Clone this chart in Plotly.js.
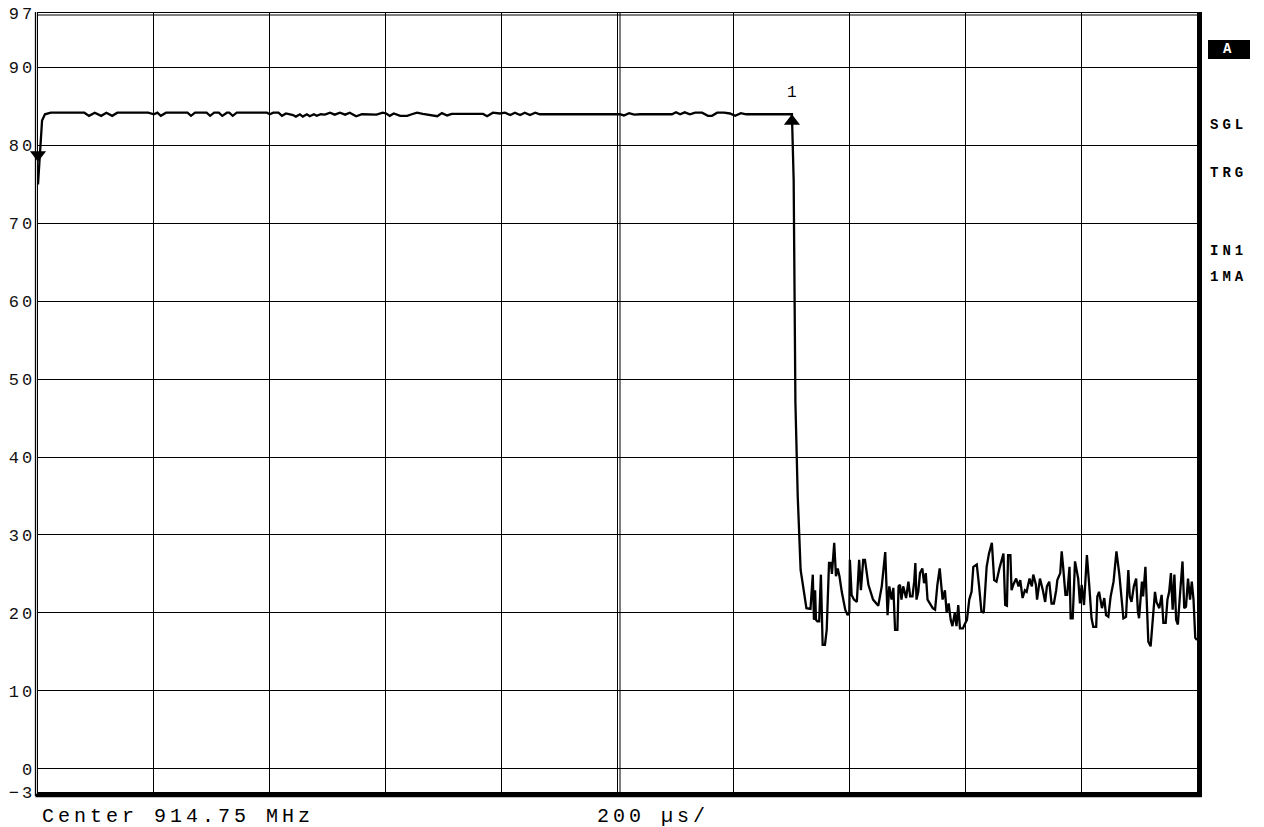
<!DOCTYPE html>
<html>
<head>
<meta charset="utf-8">
<script src="https://cdn.plot.ly/plotly-3.0.1.min.js"></script>
<style>
  html, body { margin: 0; padding: 0; background: #fff; }
  #chart { width: 1264px; height: 827px; }
  .ytick text { letter-spacing: 3px; }
  .annotation-text { letter-spacing: 4px; }
</style>
</head>
<body>
<div id="chart"></div>
<script>
// ---- data (time in microseconds from sweep start, level in dB) ----
const TIME_US = [
  0, 2, 4, 7, 12, 22, 80, 88, 98, 109, 118, 128, 137, 190, 200, 206, 212, 221,
  258, 264, 271, 291, 297, 304, 312, 318, 326, 330, 336, 343, 395, 400, 406, 415,
  421, 428, 440, 445, 452, 457, 464, 469, 476, 481, 488, 495, 504, 512, 521, 530,
  538, 549, 559, 576, 584, 595, 601, 607, 614, 625, 637, 645, 654, 664, 689, 697,
  706, 714, 768, 775, 785, 797, 806, 815, 823, 832, 840, 849, 858, 866, 996, 1004,
  1011, 1020, 1029, 1039, 1094, 1101, 1108, 1116, 1125, 1134, 1146, 1156, 1163,
  1172, 1184, 1194, 1203, 1213, 1222, 1298, 1301,
  1304, 1307, 1311, 1316, 1326,
  1333, 1337, 1339, 1341, 1342.5, 1345, 1348, 1351, 1354, 1358, 1361, 1365, 1368,
  1370, 1374, 1377, 1380, 1383, 1387, 1393, 1397, 1400, 1401, 1404, 1408, 1413,
  1417, 1420, 1424, 1427, 1433, 1441, 1450, 1456, 1458, 1462, 1466, 1469, 1473,
  1476, 1479, 1483, 1485, 1487.5, 1490, 1493, 1498, 1502, 1505, 1509, 1512, 1514,
  1516, 1519, 1522, 1526, 1529, 1532, 1535, 1539, 1544, 1548, 1552, 1556, 1561,
  1565, 1568, 1571.5, 1575, 1578, 1582, 1585, 1588, 1591, 1596, 1599, 1603, 1607,
  1611, 1614, 1620, 1624, 1628, 1632, 1637, 1641, 1646, 1650, 1654, 1659, 1663,
  1666, 1669, 1672, 1674, 1678, 1680, 1683, 1688, 1692, 1695, 1699, 1703, 1706,
  1711, 1715, 1717.5, 1722, 1724, 1729, 1734, 1738, 1741, 1745, 1749, 1753, 1757,
  1759, 1764, 1766.5, 1769, 1773, 1776, 1780, 1782, 1785.5, 1789.5, 1792, 1795,
  1798, 1801, 1805, 1810, 1814, 1818, 1821, 1826, 1828, 1831, 1836, 1840, 1843,
  1847, 1851, 1856, 1861, 1866, 1870, 1873, 1877.5, 1881.5, 1884, 1887, 1891, 1895,
  1898, 1900, 1905, 1907, 1911, 1913, 1916, 1920, 1924, 1927.5, 1930, 1935, 1939,
  1942, 1946, 1949, 1952, 1955, 1958, 1961, 1964, 1967, 1971, 1975, 1978, 1981,
  1984.5, 1988, 1991, 1994, 1997, 2000
];
const LEVEL_DB = [
  75, 77.5, 81, 83.2, 84.0, 84.2, 84.2, 83.8, 84.2, 83.8, 84.2, 83.8, 84.2, 84.2, 84.0, 84.2, 83.8, 84.2,
  84.2, 83.8, 84.2, 84.2, 83.8, 84.2, 84.2, 83.8, 84.2, 84.2, 83.8, 84.2, 84.2, 84.0, 84.2, 84.2,
  83.8, 84.1, 83.9, 83.7, 84.0, 83.7, 84.0, 83.75, 84.0, 83.8, 84.0, 83.95, 84.2, 83.95, 84.2, 83.95,
  84.2, 83.75, 84.0, 84.0, 83.95, 84.2, 84.1, 83.8, 84.1, 83.8, 83.8, 84.0, 84.2, 84.05, 83.75, 84.15,
  83.85, 84.05, 84.05, 83.75, 84.2, 84.1, 84.2, 83.9, 84.2, 83.9, 84.2, 83.9, 84.2, 84.0, 84.0, 84.0,
  83.85, 84.15, 83.95, 84.0, 84.0, 84.25, 84.0, 84.25, 84.0, 84.2, 84.2, 83.8, 83.8,
  84.2, 84.2, 84.1, 83.8, 84.15, 84.0, 84.0, 84.0,
  75.5, 47, 35, 25.5, 20.6,
  20.5, 24.9, 19.1, 22.9, 19.1, 18.9, 18.9, 24.9, 15.9, 15.9, 17.8, 26.4, 26.4,
  25.0, 29.0, 24.7, 25.7, 24.7, 22.7, 20.4, 19.7, 20.0, 26.8, 22.3, 21.7, 21.4,
  26.8, 22.9, 26.8, 26.8, 23.6, 21.7, 20.9, 23.4, 25.1, 27.8, 19.7, 23.4, 21.7,
  23.2, 17.8, 17.8, 23.4, 23.6, 21.7, 23.4, 21.9, 24.0, 22.1, 22.1, 24.0, 26.4,
  21.7, 22.7, 25.1, 25.7, 23.8, 25.1, 21.7, 21.2, 20.6, 20.4, 23.6, 25.7, 21.7,
  22.9, 20.0, 21.2, 19.1, 18.3, 20.0, 18.3, 21.0, 18.0, 18.0, 18.5, 19.1, 21.7,
  22.7, 25.9, 26.2, 23.4, 20.2, 20.0, 25.9, 27.6, 29.0, 24.2, 24.0, 25.7, 27.0,
  27.6, 21.0, 20.9, 27.4, 27.4, 22.9, 23.6, 24.4, 23.4, 24.2, 21.9, 22.9, 22.7,
  24.4, 23.4, 24.9, 23.6, 21.7, 24.4, 22.9, 21.4, 23.4, 24.0, 21.2, 21.2, 22.9,
  24.2, 25.1, 27.9, 25.9, 22.3, 22.3, 25.9, 19.3, 19.3, 26.6, 25.3, 24.4,
  21.2, 23.6, 21.0, 27.4, 23.6, 19.3, 18.2, 18.2, 22.1, 22.7, 20.6, 21.9, 19.7,
  19.5, 22.1, 24.0, 27.9, 24.9, 21.7, 19.3, 19.5, 25.5, 22.1, 21.4, 23.4, 24.4,
  20.2, 19.3, 24.0, 22.1, 25.9, 22.7, 16.3, 15.7, 19.1, 22.7, 21.4, 20.6, 22.3,
  18.7, 18.7, 21.7, 22.7, 25.1, 20.4, 24.9, 19.1, 18.5, 22.7, 26.6, 20.6, 20.8,
  24.4, 21.7, 24.0, 21.7, 16.8, 16.5
];

// markers
const MARKER_UP_T = [1301];     // marker 1 (points up at the trace)
const MARKER_UP_DB = [84.0];
const MARKER_UP_LABEL = ['1'];
const MARKER_DN_T = [0];        // marker at sweep start (points down)
const MARKER_DN_DB = [77.9];

// axes
const X_RANGE = [0, 2000];
const X_GRID = [200, 400, 600, 800, 1000, 1200, 1400, 1600, 1800];
const Y_RANGE = [-3, 97];
const Y_TICKS = [-3, 0, 10, 20, 30, 40, 50, 60, 70, 80, 90, 97];
const Y_TICKTEXT = ['\u22123', '0', '10', '20', '30', '40', '50', '60', '70', '80', '90', '97'];

// text
const FOOTER_LEFT = 'Center 914.75 MHz';
const FOOTER_MID = '200 \u00b5s/';
const SIDE_LABELS = ['SGL', 'TRG', 'IN1', '1MA'];
const SIDE_BOX = 'A';

// ---- layout helpers (pixel -> paper) ----
const M = { l: 38, r: 67, t: 13, b: 35 };
const W = 1264, H = 827;
const PW = W - M.l - M.r, PH = H - M.t - M.b;
const px = x => (x - M.l) / PW;
const py = y => 1 - (y - M.t) / PH;

const MONO = 'Liberation Mono, Courier New, monospace';

const traces = [
  {
    x: TIME_US, y: LEVEL_DB, type: 'scatter', mode: 'lines',
    line: { color: '#000', width: 2.3 }, hoverinfo: 'skip', showlegend: false
  },
  {
    x: MARKER_UP_T, y: MARKER_UP_DB, type: 'scatter', mode: 'markers',
    marker: { symbol: 'triangle-up', size: 14, color: '#000', standoff: 7 },
    cliponaxis: false, showlegend: false, hoverinfo: 'skip'
  },
  {
    x: MARKER_DN_T, y: MARKER_DN_DB, type: 'scatter', mode: 'markers',
    marker: { symbol: 'triangle-up', angle: 180, size: 14, color: '#000', standoff: 7 },
    cliponaxis: false, showlegend: false, hoverinfo: 'skip'
  }
];

const sideY = [125, 173, 251, 277];
const annotations = [
  { xref: 'paper', yref: 'paper', x: px(40), y: py(816), xanchor: 'left', yanchor: 'middle',
    text: FOOTER_LEFT, showarrow: false, font: { family: MONO, size: 20, color: '#000' } },
  { xref: 'paper', yref: 'paper', x: px(595), y: py(816), xanchor: 'left', yanchor: 'middle',
    text: FOOTER_MID, showarrow: false, font: { family: MONO, size: 20, color: '#000' } },
  { xref: 'paper', yref: 'paper', x: px(1229), y: py(49), xanchor: 'center', yanchor: 'middle',
    text: SIDE_BOX, showarrow: false, font: { family: MONO, size: 14, color: '#fff', weight: 'bold' } }
];
SIDE_LABELS.forEach((s, i) => annotations.push({
  xref: 'paper', yref: 'paper', x: px(1208), y: py(sideY[i]), xanchor: 'left', yanchor: 'middle',
  text: s, showarrow: false, font: { family: MONO, size: 14, color: '#000', weight: 'bold' }
}));
MARKER_UP_T.forEach((t, i) => annotations.push({
  xref: 'x', yref: 'y', x: t, y: MARKER_UP_DB[i], yshift: 21, xshift: 2,
  text: MARKER_UP_LABEL[i], showarrow: false, font: { family: MONO, size: 16, color: '#000' }
}));

const shapes = [
  // A box
  { type: 'rect', xref: 'paper', yref: 'paper', x0: px(1208), x1: px(1250), y0: py(59), y1: py(40),
    fillcolor: '#000', line: { width: 0 }, layer: 'below' },
  // double centre line
  { type: 'line', xref: 'x', yref: 'paper', xsizemode: 'pixel', xanchor: (X_RANGE[0] + X_RANGE[1]) / 2,
    x0: 2.5, x1: 2.5, y0: 0, y1: 1, line: { color: '#000', width: 1 } },
  // outer frame: left
  { type: 'line', xref: 'paper', yref: 'paper', xsizemode: 'pixel', xanchor: 0, x0: -2.5, x1: -2.5,
    y0: py(796), y1: py(12), line: { color: '#000', width: 1.3 } },
  // top inner second line
  { type: 'line', xref: 'paper', yref: 'paper', ysizemode: 'pixel', yanchor: 1, y0: -2, y1: -2,
    x0: 0, x1: 1, line: { color: '#000', width: 1 } },
  // right thick
  { type: 'line', xref: 'paper', yref: 'paper', xsizemode: 'pixel', xanchor: 1, x0: 3, x1: 3,
    y0: py(797), y1: py(12), line: { color: '#000', width: 4 } },
  // bottom thick
  { type: 'line', xref: 'paper', yref: 'paper', ysizemode: 'pixel', yanchor: 0, y0: -3.5, y1: -3.5,
    x0: px(35.5), x1: px(1201.5), line: { color: '#000', width: 3.5 } }
];

const layout = {
  width: W, height: H,
  margin: M,
  paper_bgcolor: '#fff', plot_bgcolor: '#fff',
  showlegend: false,
  xaxis: {
    range: X_RANGE, tickmode: 'array', tickvals: X_GRID, showticklabels: false, ticks: '',
    showgrid: true, gridcolor: '#000', gridwidth: 1, zeroline: false,
    showline: true, mirror: true, linecolor: '#000', linewidth: 1.5, fixedrange: true
  },
  yaxis: {
    range: Y_RANGE, tickmode: 'array', tickvals: Y_TICKS, ticktext: Y_TICKTEXT, ticks: '',
    showgrid: true, gridcolor: '#000', gridwidth: 1, zeroline: false,
    showline: true, mirror: true, linecolor: '#000', linewidth: 1.5,
    tickfont: { family: MONO, size: 17, color: '#111' }, ticklabelstandoff: -2, fixedrange: true
  },
  annotations: annotations,
  shapes: shapes
};

Plotly.newPlot('chart', traces, layout, { displayModeBar: false, staticPlot: true });
</script>
</body>
</html>
